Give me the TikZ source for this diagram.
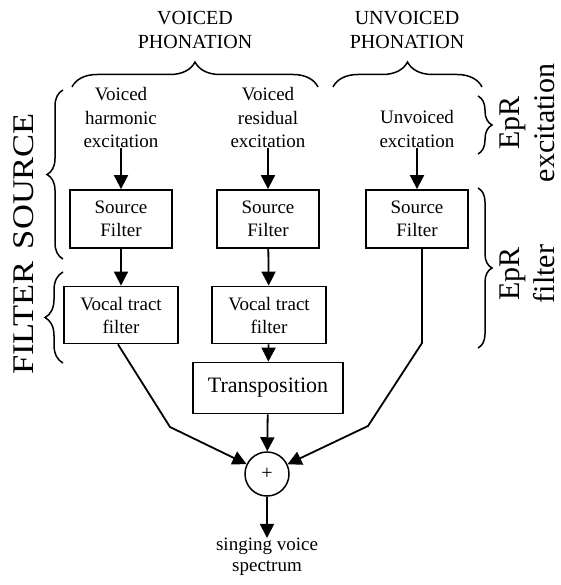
\documentclass[tikz,border=0pt]{standalone}
\usepackage{fontspec}
\setmainfont{Liberation Serif}
\newfontfamily\widecaps[FakeStretch=1.15]{Liberation Serif}
\usetikzlibrary{arrows.meta,decorations.pathreplacing}
\begin{document}
\begin{tikzpicture}[x=1pt,y=-1pt,
  box/.style={draw,line width=1.8pt,inner sep=0pt,align=center,
    font=\fontsize{19}{23}\selectfont},
  lbl/.style={align=center,inner sep=0pt,font=\fontsize{19}{23.5}\selectfont},
  head/.style={align=center,inner sep=0pt,font=\fontsize{20}{24}\selectfont},
  side/.style={rotate=90,inner sep=0pt,align=center},
  stage/.style={side,font=\widecaps\fontsize{30}{34}\selectfont},
  epr/.style={side,font=\fontsize{30}{35}\selectfont},
  arr/.style={line width=1.8pt,-{Triangle[width=14pt,length=14pt]}},
  brc/.style={decorate,decoration={brace,amplitude=#1},line width=1.5pt},
]
\useasboundingbox (0,0) rectangle (560,585);

% group headings and their braces
\node[head] (vp) at (195,30) {VOICED\\PHONATION};
\node[head] (up) at (407,30) {UNVOICED\\PHONATION};
\draw[brc=25pt] (72,87) -- (318,87);
\draw[brc=25pt] (333,87) -- (482,87);

% left-hand stage labels
\node[stage] (src) at (24,181) {SOURCE};
\node[stage] (flt) at (24,318) {FILTER};
\draw[brc=16pt] (63,259) -- (63,90);
\draw[brc=18pt] (63,363) -- (63,272);

% right-hand EpR labels
\node[epr] (epre) at (527,123) {EpR\\excitation};
\node[epr] (eprf) at (527,274) {EpR\\filter};
\draw[brc=14pt] (478,96) -- (478,154);
\draw[brc=14pt] (478,188) -- (478,348);

% excitation sources
\node[lbl] (ex1) at (121,118) {Voiced\\harmonic\\excitation};
\node[lbl] (ex2) at (268,118) {Voiced\\residual\\excitation};
\node[lbl] (ex3) at (417,129) {Unvoiced\\excitation};

% processing blocks
\node[box,minimum width=102pt,minimum height=58pt] (sf1) at (121,219) {Source\\Filter};
\node[box,minimum width=102pt,minimum height=58pt] (sf2) at (268,219) {Source\\Filter};
\node[box,minimum width=102pt,minimum height=58pt] (sf3) at (417,219) {Source\\Filter};
\node[box,minimum width=114pt,minimum height=57pt] (vt1) at (121,315) {Vocal tract\\filter};
\node[box,minimum width=114pt,minimum height=57pt] (vt2) at (269,315) {Vocal tract\\filter};
\node[box,minimum width=150pt,minimum height=51pt,font=\fontsize{22}{26}\selectfont] (tr) at (268,388) {Transposition};
\node[draw,circle,line width=1.5pt,minimum size=44pt,inner sep=0pt,font=\fontsize{20}{24}\selectfont] (sum) at (267,474) {+};
\node[lbl,font=\fontsize{19}{21}\selectfont] (out) at (267,557) {singing voice\\spectrum};

% bends of the outer branches
\coordinate (k1) at (170,427);
\coordinate (k2) at (422,343);
\coordinate (k3) at (368,426);

% signal flow
\draw[arr] (ex1.south) -- (sf1.north);
\draw[arr] (ex2.south) -- (sf2.north);
\draw[arr] (ex3.south) -- (sf3.north);
\draw[arr] (sf1) -- (vt1);
\draw[arr] (sf2) -- (vt2);
\draw[arr] (vt2) -- (tr);
\draw[arr] (tr) -- (sum);
\draw[arr] ([xshift=-3pt]vt1.south) -- (k1) -- (sum);
\draw[arr] ([xshift=5pt]sf3.south) -- (k2) -- (k3) -- (sum);
\draw[arr] (sum) -- (out.north);
\end{tikzpicture}
\end{document}
